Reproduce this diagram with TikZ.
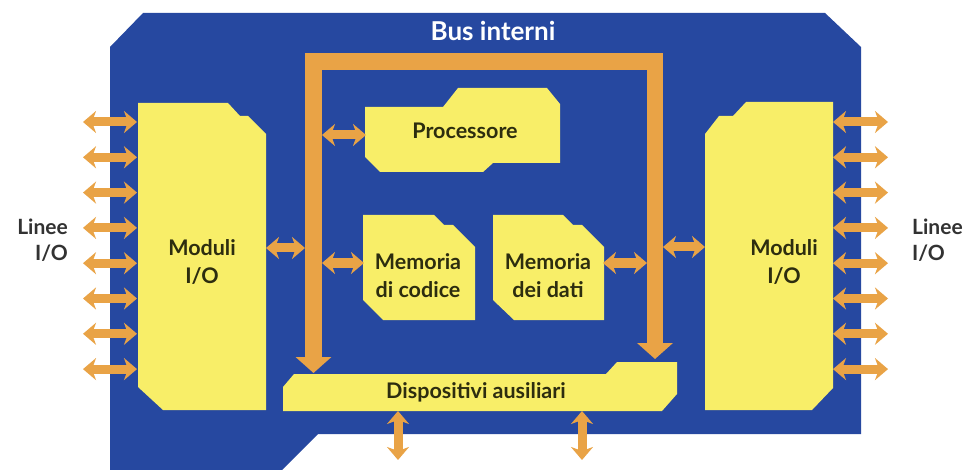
\documentclass[tikz,border=0pt]{standalone}
\usepackage{fontspec}
\setmainfont{Lato}
\usetikzlibrary{arrows.meta}
\definecolor{chipblue}{RGB}{38,72,160}
\definecolor{boxyellow}{RGB}{248,238,104}
\definecolor{busorange}{RGB}{233,163,70}
\definecolor{inktext}{RGB}{45,45,15}
\definecolor{labeltext}{RGB}{50,50,50}
\begin{document}
\begin{tikzpicture}[x=1pt,y=-1pt,
  chip/.style={fill=chipblue},
  block/.style={fill=boxyellow},
  blocktext/.style={text=inktext,font=\fontsize{21.5}{28}\selectfont\bfseries,align=center,inner sep=0pt},
  iolabel/.style={text=labeltext,font=\fontsize{21}{26}\selectfont\bfseries,inner sep=0pt},
  link/.style={draw=busorange,line width=9pt,{Stealth[width=22pt,length=13pt,inset=4pt]}-{Stealth[width=22pt,length=13pt,inset=4pt]}},
  bus/.style={draw=busorange,line width=16.5pt,line join=miter,{Triangle[width=35pt,length=16pt]}-{Triangle[width=35pt,length=16pt]}},
]
\useasboundingbox (0,0) rectangle (963,470);
% chip body
\path[chip] (143,13) -- (825,13) -- (861,47) -- (861,434) -- (318,434) -- (282,470) -- (110,470) -- (110,47) -- cycle;
% blocks
\path[block] (138,103) -- (228,103) -- (240,116) -- (248,116) -- (266,134) -- (266,410) -- (163,410) -- (138,387) -- cycle;
\path[block] (705,134) -- (719,116) -- (733,116) -- (746,102) -- (833,102) -- (833,388) -- (812,410) -- (705,410) -- cycle;
\path[block] (365,107) -- (443,107) -- (458,88) -- (547,88) -- (560,104) -- (560,163) -- (493,163) -- (483,172) -- (380,172) -- (365,157) -- cycle;
\path[block] (363,215) -- (434,215) -- (444,225) -- (453,225) -- (475,247) -- (475,320) -- (383,320) -- (363,300) -- cycle;
\path[block] (493,215) -- (563,215) -- (573,225) -- (582,225) -- (604,247) -- (604,320) -- (514,320) -- (493,300) -- cycle;
\path[block] (283,387) -- (294,374) -- (606,374) -- (617,362) -- (677,362) -- (677,394) -- (662,411) -- (283,411) -- cycle;
% texts
\node[text=white,font=\fontsize{26}{30}\selectfont\bfseries,inner sep=0pt] (busname) at (493,31) {Bus interni};
\node[blocktext] (proc) at (465,131) {Processore};
\node[blocktext] (memc) at (418,276) {Memoria\\di codice};
\node[blocktext] (memd) at (548,276) {Memoria\\dei dati};
\node[blocktext] (modL) at (202,262) {Moduli\\I/O};
\node[blocktext] (modR) at (784,262) {Moduli\\I/O};
\node[blocktext] (disp) at (476,392) {Dispositivi ausiliari};
\node[iolabel,anchor=east,align=right] (linL) at (68,240) {Linee\\I/O};
\node[iolabel,anchor=west,align=left] (linR) at (912,240) {Linee\\I/O};
% bus
\coordinate (busLend) at (313.5,373);
\coordinate (busTL) at (313.5,61.5);
\coordinate (busTR) at (655,61.5);
\coordinate (busRend) at (655,359);
\draw[bus] (busLend) -- (busTL) -- (busTR) -- (busRend);
% connection points
\coordinate (modLe) at (266,248);
\coordinate (busLw) at (305,248);
\coordinate (busRe) at (663,247);
\coordinate (modRw) at (705,247);
\coordinate (busLp) at (322,135);
\coordinate (procw) at (366,135);
\coordinate (busLm) at (322,263);
\coordinate (memcw) at (364,263);
\coordinate (memde) at (603,263);
\coordinate (busRm) at (647,263);
\coordinate (dispA) at (398,411);
\coordinate (extA) at (398,460);
\coordinate (dispB) at (582,411);
\coordinate (extB) at (582,460);
\draw[link] (modLe) -- (busLw);
\draw[link] (busRe) -- (modRw);
\draw[link] (busLp) -- (procw);
\draw[link] (busLm) -- (memcw);
\draw[link] (memde) -- (busRm);
\draw[link] (dispA) -- (extA);
\draw[link] (dispB) -- (extB);
\foreach \i in {0,...,7}{
  \coordinate (ioLo\i) at (83,122+35.3*\i);
  \coordinate (ioLi\i) at (137,122+35.3*\i);
  \coordinate (ioRi\i) at (833,122+35.3*\i);
  \coordinate (ioRo\i) at (888,122+35.3*\i);
  \draw[link] (ioLo\i) -- (ioLi\i);
  \draw[link] (ioRi\i) -- (ioRo\i);
}
\end{tikzpicture}
\end{document}
